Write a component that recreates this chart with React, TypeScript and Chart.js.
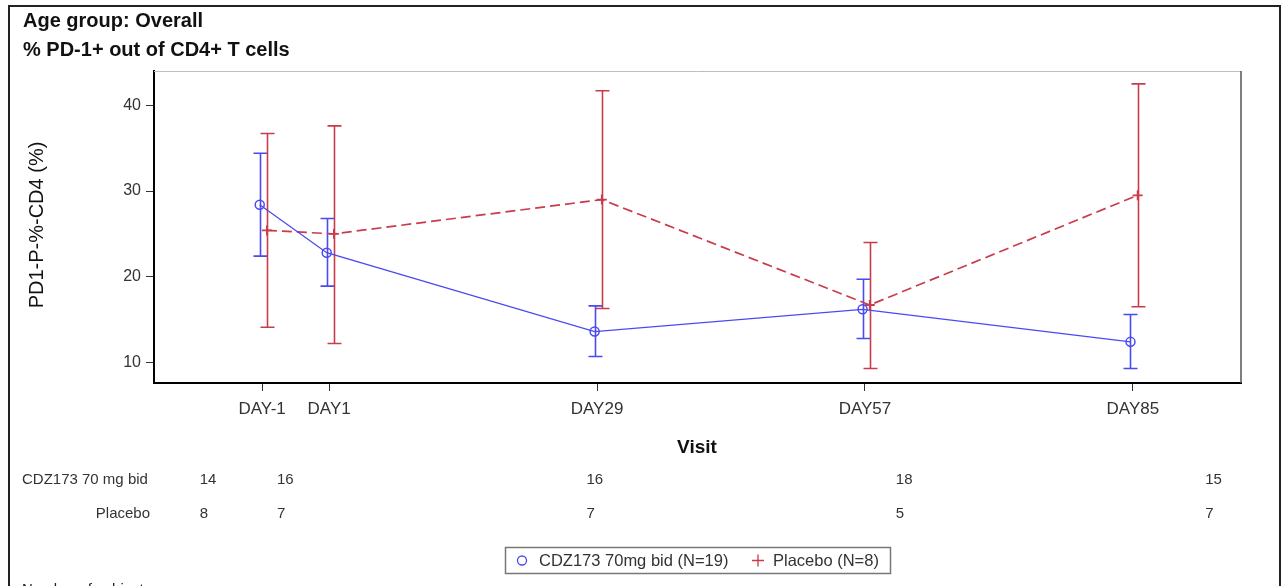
import React, { useEffect, useRef } from "react";
import { Chart, registerables } from "chart.js";

Chart.register(...registerables);

// ---- data ----
const VISITS = ["DAY-1", "DAY1", "DAY29", "DAY57", "DAY85"];
const VISIT_X = [-6, 1, 29, 57, 85];
const CDZ_MEAN = [28.4, 22.8, 13.6, 16.2, 12.4];
const CDZ_LOWER = [22.4, 18.9, 10.7, 12.8, 9.3];
const CDZ_UPPER = [34.4, 26.8, 16.6, 19.7, 15.6];
const PBO_MEAN = [25.4, 25.0, 29.0, 16.7, 29.5];
const PBO_LOWER = [14.1, 12.2, 16.3, 9.3, 16.5];
const PBO_UPPER = [36.7, 37.6, 41.7, 24.0, 42.5];
const CDZ_N = [14, 16, 16, 18, 15];
const PBO_N = [8, 7, 7, 5, 7];
const Y_TICKS = [10, 20, 30, 40];
const SERIES_NAMES = ["CDZ173 70mg bid (N=19)", "Placebo (N=8)"];
const TABLE_ROW_LABELS = ["CDZ173 70 mg bid", "Placebo"];

// ---- style ----
const BLUE = "#4a4af2";
const RED = "#c83c4c";
const FONT = '"Liberation Sans", Arial, Helvetica, sans-serif';
const W = 1285;
const H = 586;
const CLUSTER = [-0.25, 0.5];

const extras = {
  id: "extras",
  beforeDatasetsDraw(chart: any) {
    const { ctx, scales } = chart;
    const x = scales.x;
    const y = scales.y;
    const groups = [
      { lo: CDZ_LOWER, hi: CDZ_UPPER, c: BLUE, off: CLUSTER[0] },
      { lo: PBO_LOWER, hi: PBO_UPPER, c: RED, off: CLUSTER[1] },
    ];
    ctx.save();
    for (const g of groups) {
      ctx.strokeStyle = g.c;
      ctx.lineWidth = 1.6;
      VISIT_X.forEach((v, i) => {
        const px = Math.round(x.getPixelForValue(v + g.off)) + 0.5;
        const yl = y.getPixelForValue(g.lo[i]);
        const yh = y.getPixelForValue(g.hi[i]);
        ctx.beginPath();
        ctx.moveTo(px, yl);
        ctx.lineTo(px, yh);
        ctx.moveTo(px - 7, yl);
        ctx.lineTo(px + 7, yl);
        ctx.moveTo(px - 7, yh);
        ctx.lineTo(px + 7, yh);
        ctx.stroke();
      });
    }
    ctx.restore();
  },
  afterDraw(chart: any) {
    const { ctx, chartArea } = chart;
    ctx.save();
    // outer frame
    ctx.strokeStyle = "#222";
    ctx.lineWidth = 2;
    ctx.beginPath();
    ctx.moveTo(9, H + 5);
    ctx.lineTo(9, 6);
    ctx.lineTo(1280, 6);
    ctx.lineTo(1280, H + 5);
    ctx.stroke();

    // plot frame top/right
    ctx.lineWidth = 1;
    ctx.strokeStyle = "#bdbdbd";
    ctx.beginPath();
    ctx.moveTo(chartArea.left, chartArea.top + 0.5);
    ctx.lineTo(chartArea.right, chartArea.top + 0.5);
    ctx.stroke();
    ctx.strokeStyle = "#555";
    ctx.lineWidth = 1.5;
    ctx.beginPath();
    ctx.moveTo(chartArea.right, chartArea.top);
    ctx.lineTo(chartArea.right, chartArea.bottom);
    ctx.stroke();

    // titles
    ctx.fillStyle = "#111";
    ctx.textAlign = "left";
    ctx.textBaseline = "alphabetic";
    ctx.font = `bold 20px ${FONT}`;
    ctx.fillText("Age group: Overall", 23, 27);
    ctx.fillText("% PD-1+ out of CD4+ T cells", 23, 56);

    // y title
    ctx.save();
    ctx.translate(37, 225);
    ctx.rotate(-Math.PI / 2);
    ctx.textAlign = "center";
    ctx.textBaseline = "middle";
    ctx.font = `20px ${FONT}`;
    ctx.fillText("PD1-P-%-CD4 (%)", 0, 0);
    ctx.restore();

    // x title
    ctx.textAlign = "center";
    ctx.font = `bold 19px ${FONT}`;
    ctx.fillText("Visit", 697, 453);

    // table
    ctx.font = `15px ${FONT}`;
    ctx.fillStyle = "#333";
    ctx.textAlign = "left";
    ctx.fillText(TABLE_ROW_LABELS[0], 22, 484);
    ctx.textAlign = "right";
    ctx.fillText(TABLE_ROW_LABELS[1], 150, 518);
    ctx.textAlign = "left";
    const tx = (d: number) => 277 + (d - 1) * 11.05;
    VISIT_X.forEach((d, i) => {
      ctx.fillText(String(CDZ_N[i]), tx(d), 484);
      ctx.fillText(String(PBO_N[i]), tx(d), 518);
    });

    // legend
    ctx.strokeStyle = "#777";
    ctx.lineWidth = 1.5;
    ctx.strokeRect(505.5, 547.5, 385, 26);
    ctx.strokeStyle = BLUE;
    ctx.lineWidth = 1.3;
    ctx.beginPath();
    ctx.arc(522, 560.5, 4.5, 0, Math.PI * 2);
    ctx.stroke();
    ctx.strokeStyle = RED;
    ctx.beginPath();
    ctx.moveTo(752, 560.5);
    ctx.lineTo(764, 560.5);
    ctx.moveTo(758, 554.5);
    ctx.lineTo(758, 566.5);
    ctx.stroke();
    ctx.fillStyle = "#333";
    ctx.font = `16.5px ${FONT}`;
    ctx.textAlign = "left";
    ctx.textBaseline = "middle";
    ctx.fillText(SERIES_NAMES[0], 539, 561);
    ctx.fillText(SERIES_NAMES[1], 773, 561);

    // cut-off footnote
    ctx.textBaseline = "alphabetic";
    ctx.fillStyle = "#222";
    ctx.font = `15px ${FONT}`;
    ctx.fillText("Number of subjects", 22, 594);
    ctx.restore();
  },
};

export default function App() {
  const ref = useRef<HTMLCanvasElement>(null);
  useEffect(() => {
    const canvas = ref.current!;
    const chart = new Chart(canvas, {
      type: "line",
      data: {
        datasets: [
          {
            label: SERIES_NAMES[0],
            data: VISIT_X.map((v, i) => ({ x: v + CLUSTER[0], y: CDZ_MEAN[i] })),
            borderColor: BLUE,
            borderWidth: 1.3,
            pointStyle: "circle",
            pointRadius: 4.5,
            pointBorderWidth: 1.5,
            pointBorderColor: BLUE,
            pointBackgroundColor: "rgba(0,0,0,0)",
            fill: false,
            tension: 0,
          },
          {
            label: SERIES_NAMES[1],
            data: VISIT_X.map((v, i) => ({ x: v + CLUSTER[1], y: PBO_MEAN[i] })),
            borderColor: RED,
            borderWidth: 1.7,
            borderDash: [10, 5],
            pointStyle: "cross",
            pointRadius: 5,
            pointBorderWidth: 1.8,
            pointBorderColor: RED,
            pointBackgroundColor: RED,
            fill: false,
            tension: 0,
          },
        ],
      },
      options: {
        responsive: false,
        animation: false,
        events: [],
        layout: { padding: { left: 0, right: W - 1241, top: 71, bottom: 0 } },
        plugins: { legend: { display: false }, tooltip: { enabled: false }, title: { display: false } },
        scales: {
          x: {
            type: "linear",
            min: -17.3,
            max: 96.3,
            afterFit: (s: any) => {
              s.height = H - 383;
            },
            afterBuildTicks: (s: any) => {
              s.ticks = VISIT_X.map((v) => ({ value: v }));
            },
            ticks: {
              autoSkip: false,
              maxRotation: 0,
              padding: 8,
              color: "#333",
              font: { family: FONT, size: 17 },
              callback: (val: any) => {
                const i = VISIT_X.indexOf(Number(val));
                return i >= 0 ? VISITS[i] : "";
              },
            },
            grid: { display: true, drawOnChartArea: false, drawTicks: true, tickLength: 8, tickColor: "#333", tickWidth: 1 },
            border: { display: true, color: "#000", width: 2 },
          },
          y: {
            type: "linear",
            min: 7.6,
            max: 44,
            afterFit: (s: any) => {
              s.width = 154;
            },
            afterBuildTicks: (s: any) => {
              s.ticks = Y_TICKS.map((v) => ({ value: v }));
            },
            ticks: {
              padding: 5,
              color: "#333",
              font: { family: FONT, size: 16 },
            },
            grid: { display: true, drawOnChartArea: false, drawTicks: true, tickLength: 8, tickColor: "#333", tickWidth: 1 },
            border: { display: true, color: "#000", width: 2 },
          },
        },
      },
      plugins: [extras],
    });
    return () => chart.destroy();
  }, []);
  return (
    <div style={{ position: "fixed", left: 0, top: 0, width: W, height: H, background: "#fff" }}>
      <canvas ref={ref} width={W} height={H} style={{ display: "block", width: W, height: H }} />
    </div>
  );
}
